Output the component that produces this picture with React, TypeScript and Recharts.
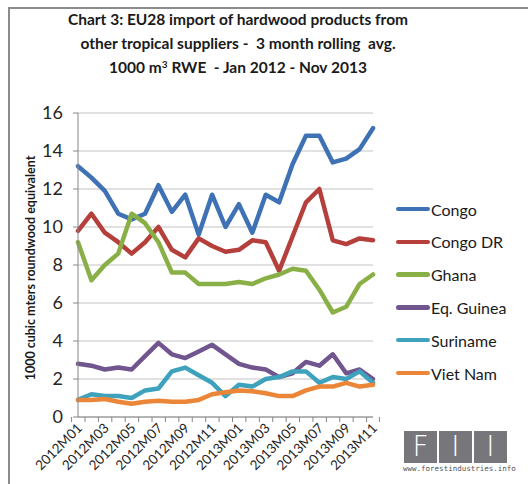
import React from 'react';
import { LineChart, Line, XAxis, YAxis, CartesianGrid } from 'recharts';

const months = [
  '2012M01', '2012M02', '2012M03', '2012M04', '2012M05', '2012M06', '2012M07', '2012M08',
  '2012M09', '2012M10', '2012M11', '2012M12', '2013M01', '2013M02', '2013M03', '2013M04',
  '2013M05', '2013M06', '2013M07', '2013M08', '2013M09', '2013M10', '2013M11',
];
const congo = [13.2, 12.6, 11.9, 10.7, 10.4, 10.7, 12.2, 10.8, 11.7, 9.6, 11.7, 10.0, 11.2, 9.7, 11.7, 11.3, 13.3, 14.8, 14.8, 13.4, 13.6, 14.1, 15.2];
const congoDR = [9.8, 10.7, 9.7, 9.2, 8.6, 9.2, 10.0, 8.8, 8.4, 9.4, 9.0, 8.7, 8.8, 9.3, 9.2, 7.7, 9.5, 11.3, 12.0, 9.3, 9.1, 9.4, 9.3];
const ghana = [9.2, 7.2, 8.0, 8.6, 10.7, 10.2, 9.2, 7.6, 7.6, 7.0, 7.0, 7.0, 7.1, 7.0, 7.3, 7.5, 7.8, 7.7, 6.7, 5.5, 5.8, 7.0, 7.5];
const eqGuinea = [2.8, 2.7, 2.5, 2.6, 2.5, 3.2, 3.9, 3.3, 3.1, 3.45, 3.8, 3.3, 2.8, 2.6, 2.5, 2.1, 2.3, 2.9, 2.7, 3.3, 2.3, 2.5, 2.0];
const suriname = [0.9, 1.2, 1.1, 1.1, 1.0, 1.4, 1.5, 2.4, 2.6, 2.2, 1.8, 1.1, 1.7, 1.6, 2.0, 2.1, 2.4, 2.4, 1.8, 2.1, 2.0, 2.4, 1.8];
const vietNam = [0.9, 0.9, 0.95, 0.8, 0.7, 0.8, 0.85, 0.8, 0.8, 0.9, 1.2, 1.3, 1.4, 1.35, 1.25, 1.1, 1.1, 1.4, 1.6, 1.6, 1.8, 1.6, 1.7];

const seriesNames = ['Congo', 'Congo DR', 'Ghana', 'Eq. Guinea', 'Suriname', 'Viet Nam'];
const seriesValues = [congo, congoDR, ghana, eqGuinea, suriname, vietNam];
const seriesColors = ['#3E72B5', '#B43F3B', '#89B046', '#70558F', '#3FA2BD', '#EB8638'];
const yTicks = [0, 2, 4, 6, 8, 10, 12, 14, 16];

const titleLines = [
  'Chart 3: EU28 import of hardwood products from',
  'other tropical suppliers -  3 month rolling  avg.',
];
const yLabel = '1000 cubic mters roundwood equivalent';

const data = months.map((m, i) => {
  const row: Record<string, number | string> = { month: m };
  seriesNames.forEach((n, k) => {
    row[n] = seriesValues[k][i];
  });
  return row;
});

const FONT = 'Lato, "Open Sans", sans-serif';
const W = 528;
const H = 484;
const PLOT_LEFT = 78;
const PLOT_RIGHT = 373;
const PLOT_BOTTOM = 417;
const BAND = (PLOT_RIGHT - PLOT_LEFT) / months.length;

const XTick = (props: any) => {
  const { x, payload, index } = props;
  const ty = PLOT_BOTTOM;
  return (
    <g>
      <line x1={x - BAND / 2} y1={ty} x2={x - BAND / 2} y2={ty + 5} stroke="#868686" />
      {index === months.length - 1 && (
        <line x1={x + BAND / 2} y1={ty} x2={x + BAND / 2} y2={ty + 5} stroke="#868686" />
      )}
      {index % 2 === 0 && (
        <text
          x={x + 5}
          y={ty + 12}
          textAnchor="end"
          transform={`rotate(-45 ${x + 5} ${ty + 12})`}
          fontSize={13.5}
          fontFamily={FONT}
          fill="#262626"
        >
          {payload.value}
        </text>
      )}
    </g>
  );
};

export default function App() {
  return (
    <div style={{ position: 'absolute', left: 0, top: 0, width: W, height: H, background: '#fff', fontFamily: FONT, overflow: 'hidden' }}>
      <div style={{ position: 'absolute', left: 8, top: 7, width: W, height: H, borderTop: '2px solid #8c8c8c', borderLeft: '2px solid #8c8c8c', boxSizing: 'border-box' }} />
      <div style={{ position: 'absolute', left: 0, top: 7, width: 476, textAlign: 'center', fontWeight: 700, fontSize: 15.5, lineHeight: '24px', color: '#1a1a1a' }}>
        {titleLines.map((t) => (
          <div key={t} style={{ whiteSpace: 'pre' }}>{t}</div>
        ))}
        <div style={{ whiteSpace: 'pre' }}>
          1000 m<sup style={{ fontSize: 10, verticalAlign: 'top', lineHeight: '18px' }}>3</sup> RWE  - Jan 2012 - Nov 2013
        </div>
      </div>
      <div style={{ position: 'absolute', left: 30, top: 268, width: 0, height: 0 }}>
        <div style={{ position: 'absolute', left: 0, top: 0, transform: 'translate(-50%, -50%) rotate(-90deg)', whiteSpace: 'nowrap', fontWeight: 700, fontSize: 12.5, color: '#1a1a1a' }}>
          {yLabel}
        </div>
      </div>
      <div style={{ position: 'absolute', left: 0, top: 0 }}>
        <LineChart width={W} height={H} data={data} margin={{ top: 113, right: W - PLOT_RIGHT, bottom: 17, left: 38 }}>
          <CartesianGrid vertical={false} stroke="#c4c4c4" strokeWidth={1.2} />
          <XAxis
            dataKey="month"
            interval={0}
            height={50}
            tickLine={false}
            axisLine={{ stroke: '#868686' }}
            tick={<XTick />}
          />
          <YAxis
            width={40}
            domain={[0, 16]}
            ticks={yTicks}
            interval={0}
            tickSize={5}
            tickMargin={10}
            axisLine={{ stroke: '#868686' }}
            tickLine={{ stroke: '#868686' }}
            tick={{ fontSize: 18, fill: '#262626', fontFamily: FONT }}
          />
          {seriesNames.map((n, k) => (
            <Line
              key={n}
              dataKey={n}
              type="linear"
              stroke={seriesColors[k]}
              strokeWidth={4.5}
              dot={false}
              strokeLinejoin="round"
              strokeLinecap="round"
              isAnimationActive={false}
            />
          ))}
        </LineChart>
      </div>
      {seriesNames.map((n, k) => (
        <div key={n} style={{ position: 'absolute', left: 396, top: 209 + k * 32.8 - 10, height: 20, display: 'flex', alignItems: 'center' }}>
          <div style={{ width: 34, height: 4.5, borderRadius: 2.5, background: seriesColors[k] }} />
          <span style={{ fontSize: 16, color: '#1a1a1a', marginLeft: 1 }}>{n}</span>
        </div>
      ))}
      <div style={{ position: 'absolute', left: 404, top: 431, display: 'flex', gap: 2 }}>
        {['F', 'I', 'I'].map((c, i) => (
          <div key={i} style={{ width: 33, height: 32, background: '#77767a', color: '#fff', fontSize: 28, lineHeight: '32px', textAlign: 'center', fontFamily: '"DejaVu Sans", sans-serif', fontWeight: 300 }}>
            {c}
          </div>
        ))}
      </div>
      <div style={{ position: 'absolute', left: 403, top: 464, fontSize: 7.5, fontFamily: '"DejaVu Sans Mono", monospace', color: '#555', whiteSpace: 'nowrap' }}>
        www.forestindustries.info
      </div>
    </div>
  );
}
